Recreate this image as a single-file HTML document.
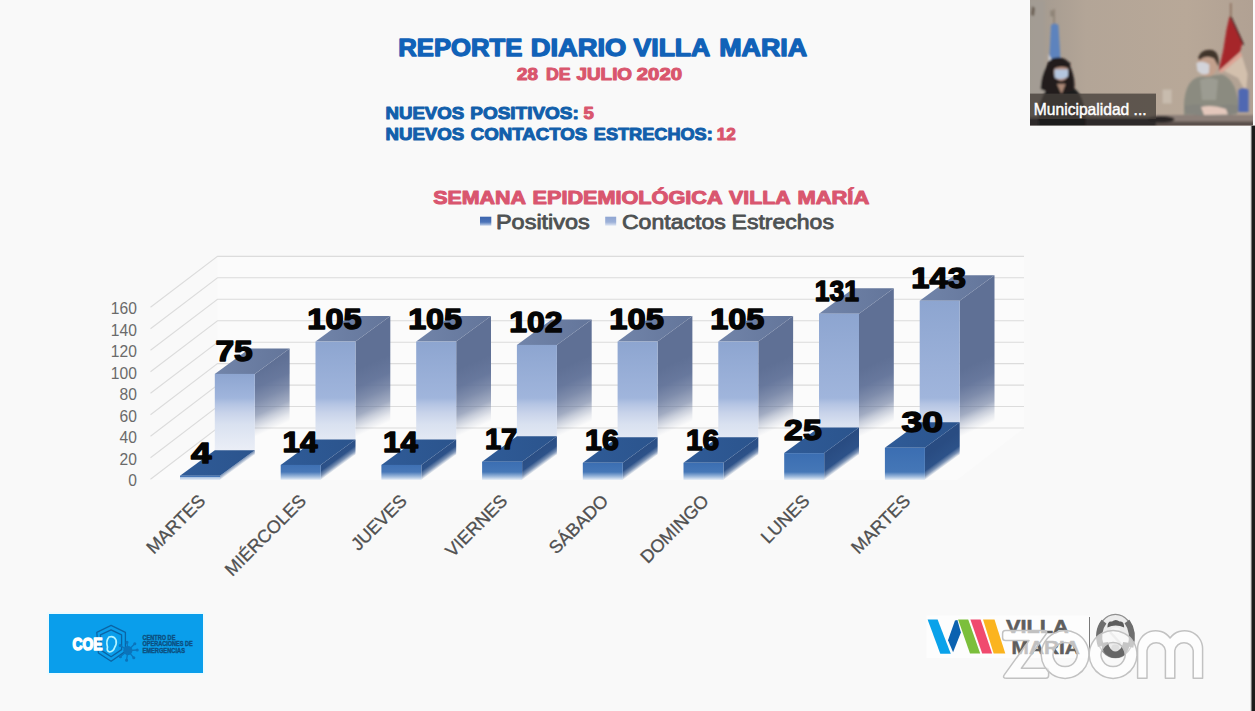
<!DOCTYPE html>
<html><head><meta charset="utf-8">
<style>
html,body{margin:0;padding:0;}
body{width:1255px;height:711px;overflow:hidden;background:#f9f9f9;position:relative;font-family:"Liberation Sans",sans-serif;}
svg{position:absolute;left:0;top:0;}
text{font-family:"Liberation Sans",sans-serif;}
</style></head>
<body>
<svg width="1255" height="711" viewBox="0 0 1255 711">
<rect width="1255" height="711" fill="#f9f9f9"/>
<text transform="translate(398.28 55.8) scale(1.0879 1)" font-size="23.6" font-weight="bold" fill="#1162b8" stroke="#1162b8" stroke-width="1.3" stroke-linejoin="round">REPORTE</text>
<text transform="translate(530.73 55.8) scale(1.1571 1)" font-size="23.6" font-weight="bold" fill="#1162b8" stroke="#1162b8" stroke-width="1.3" stroke-linejoin="round">DIARIO</text>
<text transform="translate(633.56 55.8) scale(1.1258 1)" font-size="23.6" font-weight="bold" fill="#1162b8" stroke="#1162b8" stroke-width="1.3" stroke-linejoin="round">VILLA</text>
<text transform="translate(719.25 55.8) scale(1.1375 1)" font-size="23.6" font-weight="bold" fill="#1162b8" stroke="#1162b8" stroke-width="1.3" stroke-linejoin="round">MARIA</text>
<text transform="translate(517.10 79.5) scale(1.1667 1)" font-size="16.1" font-weight="bold" fill="#d9566d" stroke="#d9566d" stroke-width="1.0" stroke-linejoin="round">28</text>
<text transform="translate(545.95 79.5) scale(1.1034 1)" font-size="16.1" font-weight="bold" fill="#d9566d" stroke="#d9566d" stroke-width="1.0" stroke-linejoin="round">DE</text>
<text transform="translate(576.49 79.5) scale(1.1726 1)" font-size="16.1" font-weight="bold" fill="#d9566d" stroke="#d9566d" stroke-width="1.0" stroke-linejoin="round">JULIO</text>
<text transform="translate(636.80 79.5) scale(1.2643 1)" font-size="16.1" font-weight="bold" fill="#d9566d" stroke="#d9566d" stroke-width="1.0" stroke-linejoin="round">2020</text>
<text transform="translate(385.53 118.5) scale(1.1429 1)" font-size="16.3" font-weight="bold" fill="#125fab" stroke="#125fab" stroke-width="1.0" stroke-linejoin="round">NUEVOS</text>
<text transform="translate(470.22 118.5) scale(1.1651 1)" font-size="16.3" font-weight="bold" fill="#125fab" stroke="#125fab" stroke-width="1.0" stroke-linejoin="round">POSITIVOS:</text>
<text transform="translate(583.50 118.5) scale(1.1351 1)" font-size="16.3" font-weight="bold" fill="#d9566d" stroke="#d9566d" stroke-width="1.0" stroke-linejoin="round">5</text>
<text transform="translate(385.53 139.8) scale(1.1429 1)" font-size="16.3" font-weight="bold" fill="#125fab" stroke="#125fab" stroke-width="1.0" stroke-linejoin="round">NUEVOS</text>
<text transform="translate(470.80 139.8) scale(1.1448 1)" font-size="16.3" font-weight="bold" fill="#125fab" stroke="#125fab" stroke-width="1.0" stroke-linejoin="round">CONTACTOS</text>
<text transform="translate(593.84 139.8) scale(1.1135 1)" font-size="16.3" font-weight="bold" fill="#125fab" stroke="#125fab" stroke-width="1.0" stroke-linejoin="round">ESTRECHOS:</text>
<text transform="translate(716.67 139.8) scale(1.0514 1)" font-size="16.3" font-weight="bold" fill="#d9566d" stroke="#d9566d" stroke-width="1.0" stroke-linejoin="round">12</text>
<text transform="translate(433.20 203.6) scale(1.1974 1)" font-size="17.9" font-weight="bold" fill="#d9566f" stroke="#d9566f" stroke-width="1.0" stroke-linejoin="round">SEMANA</text>
<text transform="translate(532.49 203.6) scale(1.2108 1)" font-size="17.9" font-weight="bold" fill="#d9566f" stroke="#d9566f" stroke-width="1.0" stroke-linejoin="round">EPIDEMIOLÓGICA</text>
<text transform="translate(729.00 203.6) scale(1.1923 1)" font-size="17.9" font-weight="bold" fill="#d9566f" stroke="#d9566f" stroke-width="1.0" stroke-linejoin="round">VILLA</text>
<text transform="translate(797.39 203.6) scale(1.2275 1)" font-size="17.9" font-weight="bold" fill="#d9566f" stroke="#d9566f" stroke-width="1.0" stroke-linejoin="round">MARÍA</text>
<text transform="translate(495.95 229.2) scale(1.1561 1)" font-size="20.3" font-weight="normal" fill="#4d5152" stroke="#4d5152" stroke-width="0.8" stroke-linejoin="round">Positivos</text>
<text transform="translate(621.93 229.2) scale(1.1359 1)" font-size="20.3" font-weight="normal" fill="#4d5152" stroke="#4d5152" stroke-width="0.8" stroke-linejoin="round">Contactos</text>
<text transform="translate(731.58 229.2) scale(1.1346 1)" font-size="20.3" font-weight="normal" fill="#4d5152" stroke="#4d5152" stroke-width="0.8" stroke-linejoin="round">Estrechos</text>
<!-- legend -->
<defs>
<linearGradient id="lg1" x1="0" y1="0" x2="0" y2="1"><stop offset="0" stop-color="#3c64ad"/><stop offset="0.6" stop-color="#4c74b8"/><stop offset="1" stop-color="#c5d3ea"/></linearGradient>
<linearGradient id="lg2" x1="0" y1="0" x2="0" y2="1"><stop offset="0" stop-color="#8fa5d2"/><stop offset="0.6" stop-color="#9db1d8"/><stop offset="1" stop-color="#dfe6f3"/></linearGradient>
</defs>
<rect x="480" y="216.7" width="11.3" height="9" fill="url(#lg1)"/>
<rect x="605.2" y="216.7" width="11" height="9" fill="url(#lg2)"/>
<defs><linearGradient id="cs" gradientUnits="userSpaceOnUse" x1="0" y1="370" x2="26.2" y2="428.2"><stop offset="0.000" stop-color="#5f7095"/><stop offset="0.257" stop-color="#63749a" stop-opacity="0.97"/><stop offset="0.457" stop-color="#63749a" stop-opacity="0.82"/><stop offset="0.657" stop-color="#63749a" stop-opacity="0.59"/><stop offset="0.757" stop-color="#63749a" stop-opacity="0.34"/><stop offset="0.857" stop-color="#63749a" stop-opacity="0.14"/><stop offset="0.957" stop-color="#63749a" stop-opacity="0"/><stop offset="1.000" stop-color="#63749a" stop-opacity="0"/></linearGradient><linearGradient id="ps" gradientUnits="userSpaceOnUse" x1="0" y1="456" x2="11.9" y2="472.3"><stop offset="0.000" stop-color="#294c82"/><stop offset="0.600" stop-color="#2d5289"/><stop offset="0.800" stop-color="#2d5289" stop-opacity="0.6"/><stop offset="0.960" stop-color="#2d5289" stop-opacity="0.04"/><stop offset="1.000" stop-color="#2d5289" stop-opacity="0"/></linearGradient><linearGradient id="cf0" gradientUnits="userSpaceOnUse" x1="0" y1="373.9" x2="0" y2="454.5"><stop offset="0.000" stop-color="#8da5d0"/><stop offset="0.299" stop-color="#a0b5dc"/><stop offset="0.374" stop-color="#b4c4e3"/><stop offset="0.485" stop-color="#c8d3ea"/><stop offset="0.622" stop-color="#d9e1f0"/><stop offset="0.820" stop-color="#e4e9f4"/><stop offset="1.000" stop-color="#edf0f7"/></linearGradient><linearGradient id="pf0" gradientUnits="userSpaceOnUse" x1="0" y1="475.7" x2="0" y2="480.5"><stop offset="0.000" stop-color="#3e70b3"/><stop offset="0.208" stop-color="#4878b8"/><stop offset="0.271" stop-color="#a5bfdf"/><stop offset="1.000" stop-color="#f4f7fb"/></linearGradient><linearGradient id="cf1" gradientUnits="userSpaceOnUse" x1="0" y1="341.6" x2="0" y2="454.5"><stop offset="0.000" stop-color="#8da5d0"/><stop offset="0.499" stop-color="#a0b5dc"/><stop offset="0.553" stop-color="#b4c4e3"/><stop offset="0.632" stop-color="#c8d3ea"/><stop offset="0.730" stop-color="#d9e1f0"/><stop offset="0.872" stop-color="#e4e9f4"/><stop offset="1.000" stop-color="#edf0f7"/></linearGradient><linearGradient id="pf1" gradientUnits="userSpaceOnUse" x1="0" y1="464.9" x2="0" y2="480.5"><stop offset="0.000" stop-color="#3e70b3"/><stop offset="0.453" stop-color="#4878b8"/><stop offset="0.775" stop-color="#a5bfdf"/><stop offset="1.000" stop-color="#f4f7fb"/></linearGradient><linearGradient id="cf2" gradientUnits="userSpaceOnUse" x1="0" y1="341.6" x2="0" y2="454.5"><stop offset="0.000" stop-color="#8da5d0"/><stop offset="0.499" stop-color="#a0b5dc"/><stop offset="0.553" stop-color="#b4c4e3"/><stop offset="0.632" stop-color="#c8d3ea"/><stop offset="0.730" stop-color="#d9e1f0"/><stop offset="0.872" stop-color="#e4e9f4"/><stop offset="1.000" stop-color="#edf0f7"/></linearGradient><linearGradient id="pf2" gradientUnits="userSpaceOnUse" x1="0" y1="464.9" x2="0" y2="480.5"><stop offset="0.000" stop-color="#3e70b3"/><stop offset="0.453" stop-color="#4878b8"/><stop offset="0.775" stop-color="#a5bfdf"/><stop offset="1.000" stop-color="#f4f7fb"/></linearGradient><linearGradient id="cf3" gradientUnits="userSpaceOnUse" x1="0" y1="344.9" x2="0" y2="454.5"><stop offset="0.000" stop-color="#8da5d0"/><stop offset="0.485" stop-color="#a0b5dc"/><stop offset="0.539" stop-color="#b4c4e3"/><stop offset="0.622" stop-color="#c8d3ea"/><stop offset="0.722" stop-color="#d9e1f0"/><stop offset="0.868" stop-color="#e4e9f4"/><stop offset="1.000" stop-color="#edf0f7"/></linearGradient><linearGradient id="pf3" gradientUnits="userSpaceOnUse" x1="0" y1="461.7" x2="0" y2="480.5"><stop offset="0.000" stop-color="#3b6eb2"/><stop offset="0.547" stop-color="#4577b7"/><stop offset="0.814" stop-color="#a5bfdf"/><stop offset="1.000" stop-color="#f4f7fb"/></linearGradient><linearGradient id="cf4" gradientUnits="userSpaceOnUse" x1="0" y1="341.6" x2="0" y2="454.5"><stop offset="0.000" stop-color="#8da5d0"/><stop offset="0.499" stop-color="#a0b5dc"/><stop offset="0.553" stop-color="#b4c4e3"/><stop offset="0.632" stop-color="#c8d3ea"/><stop offset="0.730" stop-color="#d9e1f0"/><stop offset="0.872" stop-color="#e4e9f4"/><stop offset="1.000" stop-color="#edf0f7"/></linearGradient><linearGradient id="pf4" gradientUnits="userSpaceOnUse" x1="0" y1="462.8" x2="0" y2="480.5"><stop offset="0.000" stop-color="#3b6eb2"/><stop offset="0.520" stop-color="#4577b7"/><stop offset="0.802" stop-color="#a5bfdf"/><stop offset="1.000" stop-color="#f4f7fb"/></linearGradient><linearGradient id="cf5" gradientUnits="userSpaceOnUse" x1="0" y1="341.6" x2="0" y2="454.5"><stop offset="0.000" stop-color="#8da5d0"/><stop offset="0.499" stop-color="#a0b5dc"/><stop offset="0.553" stop-color="#b4c4e3"/><stop offset="0.632" stop-color="#c8d3ea"/><stop offset="0.730" stop-color="#d9e1f0"/><stop offset="0.872" stop-color="#e4e9f4"/><stop offset="1.000" stop-color="#edf0f7"/></linearGradient><linearGradient id="pf5" gradientUnits="userSpaceOnUse" x1="0" y1="462.8" x2="0" y2="480.5"><stop offset="0.000" stop-color="#3b6eb2"/><stop offset="0.520" stop-color="#4577b7"/><stop offset="0.802" stop-color="#a5bfdf"/><stop offset="1.000" stop-color="#f4f7fb"/></linearGradient><linearGradient id="cf6" gradientUnits="userSpaceOnUse" x1="0" y1="313.7" x2="0" y2="454.5"><stop offset="0.000" stop-color="#8da5d0"/><stop offset="0.599" stop-color="#a0b5dc"/><stop offset="0.641" stop-color="#b4c4e3"/><stop offset="0.705" stop-color="#c8d3ea"/><stop offset="0.783" stop-color="#d9e1f0"/><stop offset="0.897" stop-color="#e4e9f4"/><stop offset="1.000" stop-color="#edf0f7"/></linearGradient><linearGradient id="pf6" gradientUnits="userSpaceOnUse" x1="0" y1="453.1" x2="0" y2="480.5"><stop offset="0.000" stop-color="#3b6eb2"/><stop offset="0.689" stop-color="#4577b7"/><stop offset="0.872" stop-color="#a5bfdf"/><stop offset="1.000" stop-color="#f4f7fb"/></linearGradient><linearGradient id="cf7" gradientUnits="userSpaceOnUse" x1="0" y1="300.8" x2="0" y2="454.5"><stop offset="0.000" stop-color="#8da5d0"/><stop offset="0.632" stop-color="#a0b5dc"/><stop offset="0.671" stop-color="#b4c4e3"/><stop offset="0.730" stop-color="#c8d3ea"/><stop offset="0.802" stop-color="#d9e1f0"/><stop offset="0.906" stop-color="#e4e9f4"/><stop offset="1.000" stop-color="#edf0f7"/></linearGradient><linearGradient id="pf7" gradientUnits="userSpaceOnUse" x1="0" y1="447.8" x2="0" y2="480.5"><stop offset="0.000" stop-color="#3b6eb2"/><stop offset="0.740" stop-color="#4577b7"/><stop offset="0.893" stop-color="#a5bfdf"/><stop offset="1.000" stop-color="#f4f7fb"/></linearGradient><linearGradient id="ct" x1="0" y1="0" x2="1" y2="0"><stop offset="0" stop-color="#7184a9"/><stop offset="1" stop-color="#63759a"/></linearGradient><linearGradient id="pt" x1="0" y1="0" x2="1" y2="0"><stop offset="0" stop-color="#2f5b97"/><stop offset="1" stop-color="#2b548d"/></linearGradient></defs><path d="M217.5 256.4 H1024 V428 H217.5 Z" fill="#fbfbfb"/><path d="M150.5 480 L217.5 428 H1024 L957 480 Z" fill="#fbfbfb"/><g fill="none" stroke="#dcdcdc" stroke-width="1.1"><path d="M150.5 307.3 L217.5 256.4 H1024" /><path d="M150.5 328.8 L217.5 277.8 H1024" /><path d="M150.5 350.3 L217.5 299.3 H1024" /><path d="M150.5 371.8 L217.5 320.8 H1024" /><path d="M150.5 393.3 L217.5 342.2 H1024" /><path d="M150.5 414.8 L217.5 363.6 H1024" /><path d="M150.5 436.3 L217.5 385.1 H1024" /><path d="M150.5 457.8 L217.5 406.5 H1024" /><path d="M150.5 479.3 L217.5 428 H1024" /></g><path transform="translate(254.8 0)" d="M0 373.9 l34.8 -25.5 V429 L0 454.5 Z" fill="url(#cs)"/><path d="M214.8 373.9 l34.8 -25.5 h40 l-34.8 25.5 Z" fill="url(#ct)"/><rect x="214.8" y="373.9" width="40" height="80.6" fill="url(#cf0)"/><path transform="translate(220 0)" d="M0 475.7 l34.8 -25.5 V454.5 L0 480 Z" fill="url(#ps)"/><path d="M180 475.7 l34.8 -25.5 h40 l-34.8 25.5 Z" fill="url(#pt)"/><rect x="180" y="475.7" width="40" height="4.3" fill="url(#pf0)"/><path transform="translate(355.5 0)" d="M0 341.6 l34.8 -25.5 V429 L0 454.5 Z" fill="url(#cs)"/><path d="M315.5 341.6 l34.8 -25.5 h40 l-34.8 25.5 Z" fill="url(#ct)"/><rect x="315.5" y="341.6" width="40" height="112.9" fill="url(#cf1)"/><path transform="translate(320.7 0)" d="M0 464.9 l34.8 -25.5 V454.5 L0 480 Z" fill="url(#ps)"/><path d="M280.7 464.9 l34.8 -25.5 h40 l-34.8 25.5 Z" fill="url(#pt)"/><rect x="280.7" y="464.9" width="40" height="15" fill="url(#pf1)"/><path transform="translate(456.2 0)" d="M0 341.6 l34.8 -25.5 V429 L0 454.5 Z" fill="url(#cs)"/><path d="M416.2 341.6 l34.8 -25.5 h40 l-34.8 25.5 Z" fill="url(#ct)"/><rect x="416.2" y="341.6" width="40" height="112.9" fill="url(#cf2)"/><path transform="translate(421.4 0)" d="M0 464.9 l34.8 -25.5 V454.5 L0 480 Z" fill="url(#ps)"/><path d="M381.4 464.9 l34.8 -25.5 h40 l-34.8 25.5 Z" fill="url(#pt)"/><rect x="381.4" y="464.9" width="40" height="15" fill="url(#pf2)"/><path transform="translate(556.9 0)" d="M0 344.9 l34.8 -25.5 V429 L0 454.5 Z" fill="url(#cs)"/><path d="M516.9 344.9 l34.8 -25.5 h40 l-34.8 25.5 Z" fill="url(#ct)"/><rect x="516.9" y="344.9" width="40" height="109.6" fill="url(#cf3)"/><path transform="translate(522.1 0)" d="M0 461.7 l34.8 -25.5 V454.5 L0 480 Z" fill="url(#ps)"/><path d="M482.1 461.7 l34.8 -25.5 h40 l-34.8 25.5 Z" fill="url(#pt)"/><rect x="482.1" y="461.7" width="40" height="18.3" fill="url(#pf3)"/><path transform="translate(657.6 0)" d="M0 341.6 l34.8 -25.5 V429 L0 454.5 Z" fill="url(#cs)"/><path d="M617.6 341.6 l34.8 -25.5 h40 l-34.8 25.5 Z" fill="url(#ct)"/><rect x="617.6" y="341.6" width="40" height="112.9" fill="url(#cf4)"/><path transform="translate(622.8 0)" d="M0 462.8 l34.8 -25.5 V454.5 L0 480 Z" fill="url(#ps)"/><path d="M582.8 462.8 l34.8 -25.5 h40 l-34.8 25.5 Z" fill="url(#pt)"/><rect x="582.8" y="462.8" width="40" height="17.2" fill="url(#pf4)"/><path transform="translate(758.3 0)" d="M0 341.6 l34.8 -25.5 V429 L0 454.5 Z" fill="url(#cs)"/><path d="M718.3 341.6 l34.8 -25.5 h40 l-34.8 25.5 Z" fill="url(#ct)"/><rect x="718.3" y="341.6" width="40" height="112.9" fill="url(#cf5)"/><path transform="translate(723.5 0)" d="M0 462.8 l34.8 -25.5 V454.5 L0 480 Z" fill="url(#ps)"/><path d="M683.5 462.8 l34.8 -25.5 h40 l-34.8 25.5 Z" fill="url(#pt)"/><rect x="683.5" y="462.8" width="40" height="17.2" fill="url(#pf5)"/><path transform="translate(859 0)" d="M0 313.7 l34.8 -25.5 V429 L0 454.5 Z" fill="url(#cs)"/><path d="M819 313.7 l34.8 -25.5 h40 l-34.8 25.5 Z" fill="url(#ct)"/><rect x="819" y="313.7" width="40" height="140.8" fill="url(#cf6)"/><path transform="translate(824.2 0)" d="M0 453.1 l34.8 -25.5 V454.5 L0 480 Z" fill="url(#ps)"/><path d="M784.2 453.1 l34.8 -25.5 h40 l-34.8 25.5 Z" fill="url(#pt)"/><rect x="784.2" y="453.1" width="40" height="26.9" fill="url(#pf6)"/><path transform="translate(959.7 0)" d="M0 300.8 l34.8 -25.5 V429 L0 454.5 Z" fill="url(#cs)"/><path d="M919.7 300.8 l34.8 -25.5 h40 l-34.8 25.5 Z" fill="url(#ct)"/><rect x="919.7" y="300.8" width="40" height="153.7" fill="url(#cf7)"/><path transform="translate(924.9 0)" d="M0 447.8 l34.8 -25.5 V454.5 L0 480 Z" fill="url(#ps)"/><path d="M884.9 447.8 l34.8 -25.5 h40 l-34.8 25.5 Z" fill="url(#pt)"/><rect x="884.9" y="447.8" width="40" height="32.2" fill="url(#pf7)"/><g font-family="Liberation Sans, sans-serif" font-weight="bold" font-size="30.2" fill="#050505" stroke="#050505" stroke-width="1.5" stroke-linejoin="round"><text transform="translate(234.1 361.1) scale(1.109 1)" text-anchor="middle">75</text><text transform="translate(201.2 462.9) scale(1.217 1)" text-anchor="middle">4</text><text transform="translate(334.5 328.8) scale(1.078 1)" text-anchor="middle">105</text><text transform="translate(300.1 452.1) scale(1.042 1)" text-anchor="middle">14</text><text transform="translate(435.1 328.8) scale(1.071 1)" text-anchor="middle">105</text><text transform="translate(400.5 452.1) scale(1.039 1)" text-anchor="middle">14</text><text transform="translate(535.8 332.1) scale(1.057 1)" text-anchor="middle">102</text><text transform="translate(501.1 448.9) scale(0.964 1)" text-anchor="middle">17</text><text transform="translate(636.6 328.8) scale(1.082 1)" text-anchor="middle">105</text><text transform="translate(601.9 450) scale(1.003 1)" text-anchor="middle">16</text><text transform="translate(737.2 328.8) scale(1.073 1)" text-anchor="middle">105</text><text transform="translate(702.6 450) scale(0.991 1)" text-anchor="middle">16</text><text transform="translate(836.9 300.9) scale(0.878 1)" text-anchor="middle">131</text><text transform="translate(802.9 440.3) scale(1.121 1)" text-anchor="middle">25</text><text transform="translate(938.6 288) scale(1.082 1)" text-anchor="middle">143</text><text transform="translate(922.3 432) scale(1.233 1)" text-anchor="middle">30</text></g><g font-family="Liberation Sans, sans-serif" font-size="15.6" fill="#6a6a6a"><text x="136.9" y="314" text-anchor="end">160</text><text x="136.9" y="335.5" text-anchor="end">140</text><text x="136.9" y="357" text-anchor="end">120</text><text x="136.9" y="378.5" text-anchor="end">100</text><text x="136.9" y="400" text-anchor="end">80</text><text x="136.9" y="421.5" text-anchor="end">60</text><text x="136.9" y="443" text-anchor="end">40</text><text x="136.9" y="464.5" text-anchor="end">20</text><text x="136.9" y="486" text-anchor="end">0</text></g><g font-family="Liberation Sans, sans-serif" font-size="18" fill="#505050" stroke="#505050" stroke-width="0.3"><text transform="translate(206.5 502) rotate(-45)" text-anchor="end">MARTES</text><text transform="translate(307.2 502) rotate(-45)" text-anchor="end">MIÉRCOLES</text><text transform="translate(407.9 502) rotate(-45)" text-anchor="end">JUEVES</text><text transform="translate(508.6 502) rotate(-45)" text-anchor="end">VIERNES</text><text transform="translate(609.3 502) rotate(-45)" text-anchor="end">SÁBADO</text><text transform="translate(710 502) rotate(-45)" text-anchor="end">DOMINGO</text><text transform="translate(810.7 502) rotate(-45)" text-anchor="end">LUNES</text><text transform="translate(911.4 502) rotate(-45)" text-anchor="end">MARTES</text></g>
<!-- right dark strip -->
<rect x="1251.4" y="125.6" width="4" height="590" fill="#1c1c1c"/>
<rect x="1250.6" y="125" width="1" height="590" fill="#8a8a8a" opacity="0.5"/>
<!-- ======= video thumbnail ======= -->
<defs>
<linearGradient id="vbg" x1="0" y1="0" x2="1" y2="0"><stop offset="0" stop-color="#a2998f"/><stop offset="0.25" stop-color="#b3a597"/><stop offset="0.7" stop-color="#b8a898"/><stop offset="1" stop-color="#b1a193"/></linearGradient>
<filter id="b1" x="-20%" y="-20%" width="140%" height="140%"><feGaussianBlur stdDeviation="0.9"/></filter>
<filter id="b2" x="-20%" y="-20%" width="140%" height="140%"><feGaussianBlur stdDeviation="1.6"/></filter>
<clipPath id="vclip"><rect x="1030" y="0" width="223" height="125.5"/></clipPath>
</defs>
<g clip-path="url(#vclip)">
<rect x="1030" y="0" width="223" height="126" fill="url(#vbg)"/>
<g filter="url(#b1)">
<!-- left grey band -->
<rect x="1028" y="0" width="17" height="100" fill="#a39c95" opacity="0.7"/>
<!-- table -->
<rect x="1028" y="117.5" width="130" height="12" fill="#2f2b2a"/>
<rect x="1156" y="115" width="100" height="12" fill="#8c7f78"/>
<rect x="1156" y="121.5" width="100" height="6" fill="#5a504c"/>
<!-- left flag -->
<rect x="1053.4" y="9" width="1.4" height="20" fill="#8a7d70"/>
<path d="M1051 25 Q1054.6 22 1058.4 25 L1060.4 58 Q1055 62 1049.4 57 Z" fill="#5d83bd"/>
<path d="M1048.6 54 L1052.4 62 L1049 65 Z" fill="#dfe3ec"/>
<path d="M1032 6 l3 2 l-1 8 l-3 -1z" fill="#6b5f52"/>
<path d="M1050.4 10 l3 1 l0 6 l-3 -1z" fill="#8d8377"/>
<!-- woman -->
<path d="M1038.8 126 Q1037 96 1049 88.5 L1072 87 Q1085 93 1086 126 Z" fill="#1f1d1f"/>
<path d="M1046.5 66 Q1048 57.5 1058.5 57.5 Q1069 58 1070.5 67 Q1076 80 1074 90 L1062 94 L1052 94 L1040.6 89 Q1041 76 1046.5 66 Z" fill="#241d1e"/>
<ellipse cx="1061.2" cy="72" rx="7.2" ry="9" fill="#b48d7c"/>
<path d="M1054.6 69.6 H1068 V76.5 Q1061.4 81 1054.6 77.5 Z" fill="#b4c6de"/>
<path d="M1051 62 Q1060 57 1070.5 63 L1069.6 68.6 Q1060 64.6 1052.6 69.6 Z" fill="#241d1e"/>
<path d="M1057 84 L1065.6 84 L1061.6 94 Z" fill="#a98674"/>
<!-- glass -->
<rect x="1162.6" y="89.5" width="9" height="14" fill="#c8bcae"/>
<!-- man -->
<path d="M1184 112 Q1183 82 1198 77 L1222 74.5 Q1238 80 1239 112 L1184 115 Z" fill="#8b8b80"/>
<path d="M1200 80 Q1210 76 1218 80 L1216 100 L1202 100 Z" fill="#9c9c92"/>
<ellipse cx="1207.4" cy="64" rx="10.2" ry="12.6" fill="#c2a08c"/>
<path d="M1198 58 Q1201 48.6 1212 50 Q1220 52 1218.6 67 L1214 58.5 Q1206 54.4 1199.6 60 Z" fill="#41342c"/>
<path d="M1196.4 63 Q1203 60 1209.4 64.4 L1209 73 Q1203 77 1197.4 71 Z" fill="#d2d3d9"/>
<path d="M1184.6 106 Q1200 102 1214 108 Q1228 102 1238.4 106 L1237 114 Q1214 118 1186 114 Z" fill="#85857e"/>
<path d="M1201 107 Q1211 104 1226 109 L1228 114.5 L1204 115 Z" fill="#e3c7bb"/>
<!-- right flag -->
<rect x="1230" y="3" width="1.5" height="16" fill="#8a6d5a"/>
<path d="M1229.6 16 L1242.6 42 L1240 52 L1218.6 71 Q1224 50 1226.4 30 Z" fill="#a6252c"/>
<path d="M1231 17 L1243.6 45" stroke="#2a1c1c" stroke-width="1.2" fill="none"/>
<path d="M1240.6 52 L1218.6 71.6 L1222 72.4 L1242 56 Z" fill="#e0a394"/>
<path d="M1242 56 L1224 71 L1238 78 L1246 92 L1247.6 74 Z" fill="#d3c0ad"/>
<path d="M1238.4 90 Q1244 86 1248.6 90 V112 H1238.4 Z" fill="#4f68b2"/>
<!-- phone -->
<ellipse cx="1161" cy="119.3" rx="13.5" ry="3.4" fill="#2a2726"/>
</g>
<!-- name label -->
<rect x="1030" y="93.6" width="126" height="25.4" fill="#453f3a" opacity="0.78"/>
<text x="1033.8" y="114.8" font-size="16.2" fill="#ffffff" stroke="#ffffff" stroke-width="0.45" textLength="112.8" lengthAdjust="spacingAndGlyphs">Municipalidad ...</text>
</g>
<!-- ======= COE logo ======= -->
<rect x="47.3" y="612.3" width="157.4" height="62.4" fill="#ecfbff"/>
<rect x="49" y="614" width="154" height="59" fill="#0a9eeb"/>
<g fill="none" stroke="#0b64a4" stroke-width="1.3" stroke-linejoin="round">
<path d="M111.1 625.4 L125.4 632.3 V651.4 L111.1 661.3 L98.4 653 L96.8 632.3 Z"/>
<path d="M111.1 629.8 L121.6 634.9 V649.6 L111.1 656.8 L101.6 650.6 L100.4 634.9 Z"/>
</g>
<text x="72.6" y="649.6" font-size="17" font-weight="bold" fill="#fff" stroke="#fff" stroke-width="1.5" stroke-linejoin="round" textLength="30" lengthAdjust="spacingAndGlyphs">COE</text>
<path d="M109 637 Q114 635.4 116 640 Q117 644 114.6 647.5 Q113.4 651.6 109.6 652 Q106.4 651.4 107.5 647 Q105.6 641 109 637 Z" fill="#0a9eeb" stroke="#b4f3ff" stroke-width="1.7"/>
<g stroke="#0b74bb" stroke-width="1.3" fill="#0b74bb" stroke-linecap="round">
<circle cx="127.9" cy="650.6" r="4.6" stroke="none"/>
<path d="M127.9 650.6 L127 642.5 M127.9 650.6 L134.5 644 M127.9 650.6 L137 650 M127.9 650.6 L133.6 657.6 M127.9 650.6 L126.6 660 M127.9 650.6 L120.6 656.6 M127.9 650.6 L120.4 645.6" fill="none"/>
<circle cx="127" cy="642.3" r="0.9"/><circle cx="134.8" cy="643.8" r="0.9"/><circle cx="137.2" cy="650" r="0.9"/><circle cx="133.8" cy="657.8" r="0.9"/><circle cx="126.6" cy="660.2" r="0.9"/><circle cx="120.4" cy="656.8" r="0.9"/><circle cx="120.2" cy="645.5" r="0.9"/>
</g>
<g font-size="6.3" font-weight="bold" fill="#0c4f80" stroke="#0c4f80" stroke-width="0.35">
<text x="142.4" y="639.7" textLength="33" lengthAdjust="spacingAndGlyphs">CENTRO DE</text>
<text x="142.4" y="646.2" textLength="50.4" lengthAdjust="spacingAndGlyphs">OPERACIONES DE</text>
<text x="142.4" y="652.6" textLength="42.6" lengthAdjust="spacingAndGlyphs">EMERGENCIAS</text>
</g>
<!-- ======= Villa Maria logo ======= -->
<rect x="926.5" y="615.5" width="163" height="42.5" fill="#fdfdfd"/>
<path d="M927.6 619.6 H937.6 L950.8 653.8 H940.3 Z" fill="#0aa2ea"/>
<path d="M955 620.4 L957.4 620 L960.9 632.5 L953.1 652.3 L948 640.3 Z" fill="#0b62b0"/>
<path d="M958.1 619.6 H968.2 L980.2 653.6 H970 Z" fill="#7cbf3c"/>
<path d="M970.4 619.6 H980.6 L992.1 653.6 H982.2 Z" fill="#f04a6e"/>
<path d="M983 619.6 H994.5 L1005.3 653.6 H993.7 Z" fill="#fbb41f"/>
<g font-weight="bold" font-size="17.9" fill="#5e5e5e" stroke="#5e5e5e" stroke-width="0.5">
<text x="1006" y="632.5" textLength="62.8" lengthAdjust="spacingAndGlyphs">VILLA</text>
<text x="1011.6" y="653.6" textLength="68.2" lengthAdjust="spacingAndGlyphs">MARIA</text>
</g>
<rect x="1089" y="617" width="1" height="39.5" fill="#7a7a7a"/>
<!-- crest -->
<defs><radialGradient id="crg" cx="0.5" cy="0.45" r="0.55"><stop offset="0" stop-color="#d8d8d8"/><stop offset="0.55" stop-color="#b0b0b0"/><stop offset="0.8" stop-color="#767676"/><stop offset="1" stop-color="#9a9a9a"/></radialGradient></defs>
<filter id="b0" x="-20%" y="-20%" width="140%" height="140%"><feGaussianBlur stdDeviation="0.6"/></filter>
<g filter="url(#b0)">
<ellipse cx="1115.4" cy="636" rx="18" ry="21.6" fill="#ececec" stroke="#909090" stroke-width="1.4"/>
<path d="M1100.8 646 Q1096.2 632 1104 621.6" stroke="#6e6e6e" stroke-width="6" fill="none"/>
<path d="M1130.4 647 Q1134.6 632 1127 621.6" stroke="#6e6e6e" stroke-width="6" fill="none"/>
<path d="M1104.5 642.5 Q1106 654 1115.4 654.5 Q1125 654 1126.6 642.5" stroke="#666" stroke-width="7" fill="none"/>
<path d="M1107.4 627.4 Q1107.6 620.4 1112 621.6 Q1115.8 618.6 1119.6 621.6 Q1124 620.4 1124.2 627.6 Q1116 623.6 1107.4 627.4 Z" fill="#5c5c5c"/>
<ellipse cx="1115.6" cy="630.6" rx="4.6" ry="3" fill="#f4f4f4"/>
<path d="M1110 632 L1121 644" stroke="#cfcfcf" stroke-width="2.4"/>
<ellipse cx="1115.4" cy="648" rx="4" ry="3.4" fill="#dedede"/>
</g>
<!-- ======= zoom watermark ======= -->
<g fill="#ffffff" fill-opacity="0.62" stroke="#c2c2c2" stroke-width="1.5" stroke-linejoin="round" fill-rule="evenodd">
<path d="M1005.5 630.6 H1043.6 Q1048.6 630.6 1045.6 634.8 L1021.4 668.3 H1045.8 Q1048.6 668.3 1048.6 671 V675.6 Q1048.6 678.3 1045.8 678.3 H1006.6 Q1001.8 678.3 1004.6 674.4 L1029 640.6 H1005.5 Q1002.6 640.6 1002.6 637.8 V633.4 Q1002.6 630.6 1005.5 630.6 Z"/>
<path d="M1065.1 630.6 a23.9 23.9 0 1 0 0.01 0 Z M1065.1 642.5 a12 12 0 1 1 -0.01 0 Z"/>
<path d="M1113.1 630.6 a23.9 23.9 0 1 0 0.01 0 Z M1113.1 642.5 a12 12 0 1 1 -0.01 0 Z"/>
<path d="M1137.6 678.3 V648.6 A18 18 0 0 1 1170.1 638 A18 18 0 0 1 1202.6 648.6 V678.3 H1193.2 V650.6 A9.3 9.3 0 0 0 1174.8 650.6 V678.3 H1165.4 V650.6 A9.3 9.3 0 0 0 1147 650.6 V678.3 Z"/>
</g>

</svg>
</body></html>
